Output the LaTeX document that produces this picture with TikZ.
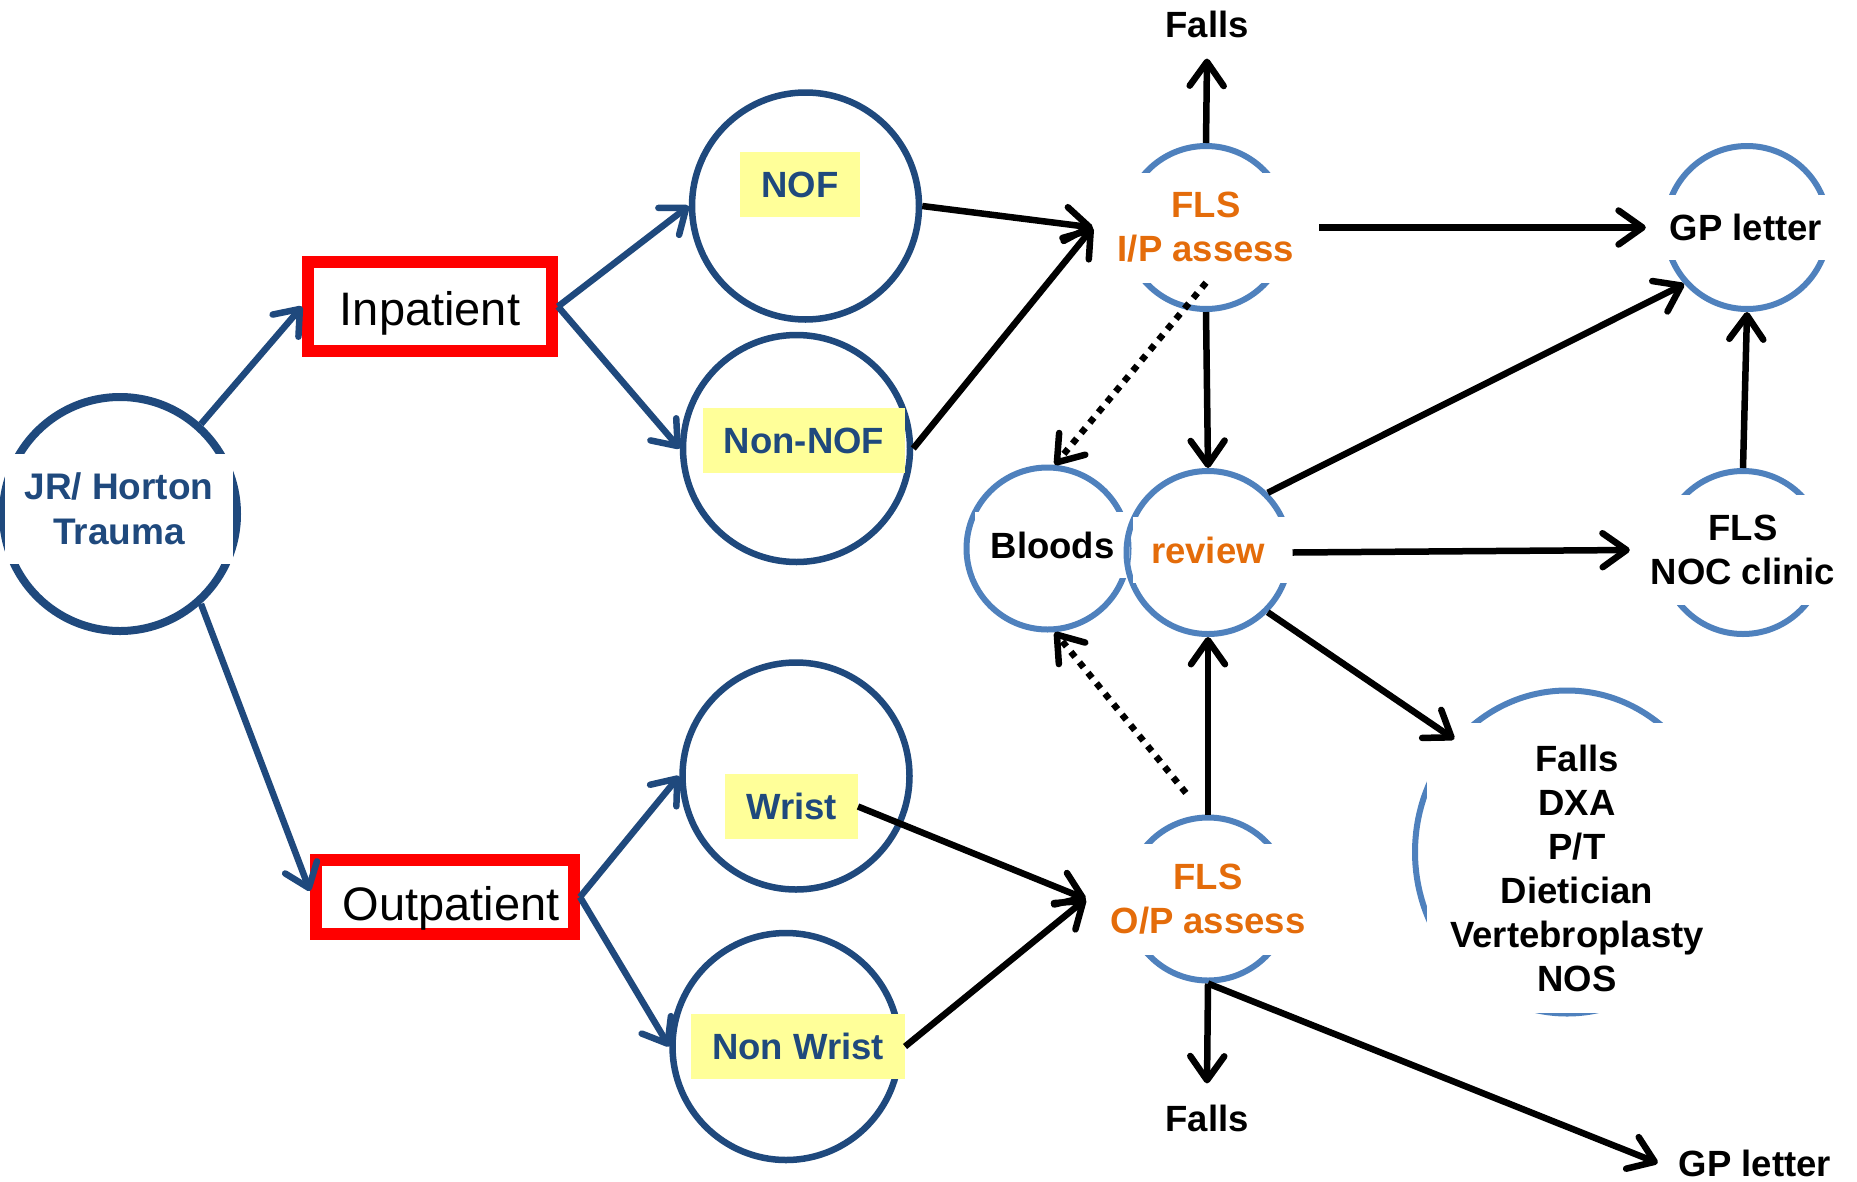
\documentclass[tikz,border=0pt]{standalone}
\usepackage{fontspec}
\setmainfont{Liberation Sans}
\usetikzlibrary{arrows.meta,shapes.geometric,calc}
\definecolor{dblue}{RGB}{31,73,125}
\definecolor{lblue}{RGB}{79,129,189}
\definecolor{orng}{RGB}{228,108,10}
\definecolor{yel}{RGB}{255,255,153}
\newcommand\lblfont{\fontsize{36.5}{44}\selectfont\bfseries}
\begin{document}
\begin{tikzpicture}[x=1pt,y=-1pt,
  dbc/.style={circle, draw=dblue, line width=6.5pt, minimum size=227pt, inner sep=0pt},
  lbc/.style={circle, draw=lblue, line width=6pt, minimum size=163pt, inner sep=0pt},
  ybox/.style={fill=yel, text=dblue, font=\lblfont, inner xsep=21pt, inner ysep=0pt, minimum height=65pt},
  cover/.style={fill=white, inner sep=0pt, align=center, font=\lblfont},
  rbox/.style={draw=red, line width=12pt, minimum width=244pt, minimum height=89pt, text depth=0pt, font=\fontsize{47}{56}\selectfont},
  plainlbl/.style={font=\lblfont, inner sep=21pt, align=center},
  barrow/.style={draw=dblue, line width=6.5pt, -{Straight Barb[round, length=22pt, width=34pt]}},
  karrow/.style={draw=black, line width=6.5pt, -{Straight Barb[round, length=24pt, width=34pt]}},
  dotarrow/.style={karrow, dash pattern=on 6.5pt off 7pt}]
\useasboundingbox[fill=white] (0,0) rectangle (1857,1181);

% dark blue circles
\node[dbc, minimum size=234pt, line width=8pt] (jrc) at (120,514) {};
\node[dbc] (nofc) at (805.5,206) {};
\node[dbc] (nnofc) at (796.5,448.5) {};
\node[dbc] (wrc) at (796,776) {};
\node[dbc] (nwc) at (786,1046.5) {};

% light blue circles
\node[lbc] (ipc) at (1206,227.5) {};
\node[lbc] (gpc) at (1747,227.5) {};
\node[lbc] (nocc) at (1743,552.5) {};
\node[lbc] (opc) at (1208,899) {};
\node[ellipse, draw=lblue, line width=6pt, minimum width=304pt, minimum height=323pt, inner sep=0pt] (bigc) at (1567,852) {};
\node[lbc, minimum size=162pt] (bdc) at (1047.5,548.5) {};
\node[cover, minimum width=155pt, minimum height=66pt] (bd) at (1052.5,545) {Bloods};
\node[lbc] (rvc) at (1208,552.5) {};
\node[cover, text=orng, minimum width=160pt, minimum height=66pt] (rv) at (1213,550) {review\hspace*{10pt}};

% text nodes / covers
\node[cover, text=dblue, minimum width=228pt, minimum height=110pt, font=\fontsize{37}{45}\selectfont\bfseries] (jr) at (119,509) {JR/ Horton\\Trauma};
\node[rbox, text height=38pt] (inp) at (430,306.5) {Inpatient};
\node[rbox, minimum width=258pt, minimum height=74pt, text height=46pt] (outp) at (445,897) {\hspace*{12pt}Outpatient};
\node[ybox] (nof) at (800,184.5) {NOF};
\node[ybox] (nnof) at (804,440.5) {Non-NOF};
\node[ybox] (wr) at (791.5,806.5) {Wrist};
\node[ybox] (nw) at (798,1046.5) {Non Wrist};
\node[cover, text=orng, minimum width=226pt, minimum height=110pt] (ip) at (1206,227.5) {FLS\\I/P assess};
\node[cover, minimum width=200pt, minimum height=65pt] (gp) at (1746,227.5) {GP letter};
\node[cover, minimum width=226pt, minimum height=110pt] (noc) at (1743,550) {FLS\\NOC clinic};
\node[cover, text=orng, minimum width=244pt, minimum height=111pt] (op) at (1208,899) {FLS\\O/P assess};
\node[cover, minimum width=300pt, minimum height=290pt] (big) at (1577,868) {Falls\\DXA\\P/T\\Dietician\\Vertebroplasty\\NOS};
\node[plainlbl] (f1) at (1207,24) {Falls};
\node[plainlbl] (f2) at (1207,1118) {Falls};
\node[plainlbl] (gp2) at (1755,1163) {GP letter};

% blue connectors
\draw[barrow] (jrc.48) -- (inp.west);
\draw[barrow] (jrc.-48) -- ($(outp.west)+(0,-6)$);
\draw[barrow] (inp.east) -- (nofc.west);
\draw[barrow] (inp.east) -- (nnofc.west);
\draw[barrow] (outp.east) -- (wrc.west);
\draw[barrow] (outp.east) -- (nwc.west);

% black connectors
\draw[karrow] (nofc.east) -- (ip.west);
\draw[karrow] (nnofc.east) -- (ip.west);
\draw[karrow] (ipc.north) -- (f1.south);
\draw[karrow] (ip.east) -- (gp.west);
\draw[karrow] (ipc.south) -- (rvc.north);
\draw[dotarrow] (ip.south) -- (bdc.85);
\draw[karrow] (rvc.45) -- (gpc.222);
\draw[karrow] (rvc.east) -- (noc.west);
\draw[karrow] (nocc.north) -- (gpc.south);
\draw[karrow] (rvc.-45) -- (bigc.135);
\draw[karrow] (opc.north) -- (rvc.south);
\draw[dotarrow, shorten <=28pt] (opc.93) -- (bdc.275);
\draw[karrow] (wr.east) -- (op.west);
\draw[karrow] (nw.east) -- (op.west);
\draw[karrow] (opc.south) -- (f2.north);
\draw[karrow] (opc.south) -- (gp2.west);
\end{tikzpicture}
\end{document}
